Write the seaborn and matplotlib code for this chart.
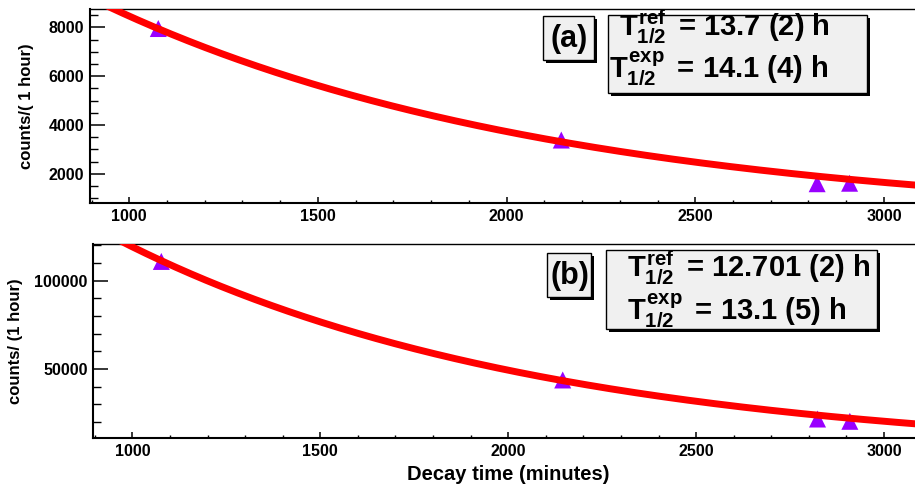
import numpy as np
import pandas as pd
import seaborn as sns
import matplotlib
matplotlib.use("Agg")
import matplotlib.pyplot as plt
from matplotlib.patches import Rectangle
from matplotlib.ticker import MultipleLocator

# ---------------- data ----------------
decay_time = [1077, 2145, 2823, 2909]            # minutes
counts_a = [7950, 3380, 1590, 1610]              # counts / (1 hour), panel (a)
counts_b = [110900, 43800, 21700, 20400]         # counts / (1 hour), panel (b)

# exponential fit parameters
fit_a_amplitude = 19190.0
fit_a_halflife_h = 14.1
fit_b_amplitude = 287800.0
fit_b_halflife_h = 13.1

x_ticks = [1000, 1500, 2000, 2500, 3000]
y_ticks_a = [2000, 4000, 6000, 8000]
y_ticks_b = [50000, 100000]

label_a = ["(a)", r"$T^{ref}_{1/2}\,$ = 13.7 (2) h", r"$T^{exp}_{1/2}\,$ = 14.1 (4) h"]
label_b = ["(b)", r"$T^{ref}_{1/2}\,$ = 12.701 (2) h", r"$T^{exp}_{1/2}\,$ = 13.1 (5) h"]

# ---------------- style ----------------
sns.set_theme(style="white")
plt.rcParams["font.family"] = ["Liberation Sans", "DejaVu Sans"]
plt.rcParams["font.weight"] = "bold"
plt.rcParams["text.color"] = "black"
plt.rcParams["axes.labelcolor"] = "black"
plt.rcParams["xtick.color"] = "black"
plt.rcParams["ytick.color"] = "black"
plt.rcParams["mathtext.fontset"] = "custom"
plt.rcParams["mathtext.rm"] = "Liberation Sans:bold"
plt.rcParams["mathtext.it"] = "Liberation Sans:bold"
plt.rcParams["mathtext.bf"] = "Liberation Sans:bold"
plt.rcParams["mathtext.sf"] = "Liberation Sans:bold"

W, H = 915, 490
fig = plt.figure(figsize=(W / 100, H / 100), dpi=100)


def fx(px):
    return px / W


def fy(py):
    return 1 - py / H


def make_axes(left, top, right, bottom):
    return fig.add_axes([fx(left), fy(bottom), fx(right) - fx(left), fy(top) - fy(bottom)])


ax_a = make_axes(90, 9, 916, 203)
ax_b = make_axes(93.3, 244.3, 916, 438)

xlim = (896, 3085)
t_curve = np.linspace(880, 3100, 500)

panels = [
    (ax_a, counts_a, fit_a_amplitude, fit_a_halflife_h, (800, 8750), y_ticks_a, 500,
     "counts/( 1 hour)", 27),
    (ax_b, counts_b, fit_b_amplitude, fit_b_halflife_h, (10950, 120600), y_ticks_b, 10000,
     "counts/ (1 hour)", 16),
]

for ax, counts, amp, thalf, ylim, yt, yminor, ylab, ylab_x in panels:
    k = np.log(2) / (thalf * 60.0)
    curve = pd.DataFrame({"t": t_curve, "c": amp * np.exp(-k * t_curve)})
    pts = pd.DataFrame({"t": decay_time, "c": counts})
    sns.lineplot(data=curve, x="t", y="c", ax=ax, color="#ff0000", lw=5.0, zorder=3)
    sns.scatterplot(data=pts, x="t", y="c", ax=ax, marker="^", s=150, color="#9900ff",
                    edgecolor="none", linewidth=0, zorder=2)
    ax.set_xlim(*xlim)
    ax.set_ylim(*ylim)
    ax.set_xticks(x_ticks)
    ax.set_xticklabels([str(v) for v in x_ticks], fontsize=11.5, fontweight="bold")
    ax.set_yticks(yt)
    ax.set_yticklabels([str(v) for v in yt], fontsize=11.5, fontweight="bold")
    ax.xaxis.set_minor_locator(MultipleLocator(100))
    ax.yaxis.set_minor_locator(MultipleLocator(yminor))
    ax.tick_params(axis="y", which="major", direction="in", length=10.8, width=1.1, pad=4,
                   left=True, colors="black")
    ax.tick_params(axis="y", which="minor", direction="in", length=5.4, width=1.0, left=True,
                   colors="black")
    ax.tick_params(axis="x", which="major", direction="in", length=4.3, width=1.1, pad=4,
                   bottom=True, colors="black")
    ax.tick_params(axis="x", which="minor", direction="in", length=2.2, width=1.0, bottom=True,
                   colors="black")
    ax.set_xlabel("")
    ax.set_ylabel("")
    ax.spines["right"].set_visible(False)
    for s in ["left", "bottom"]:
        ax.spines[s].set_linewidth(1.5)
        ax.spines[s].set_color("black")
    ax.spines["top"].set_linewidth(1.0)
    ax.spines["top"].set_color("black")
    ax.set_facecolor("white")
    bb = ax.get_position()
    fig.text(fx(ylab_x), (bb.y0 + bb.y1) / 2, ylab, rotation=90, ha="center", va="center",
             fontsize=12, fontweight="bold", color="black")

fig.text(fx(508), fy(474), "Decay time (minutes)", ha="center", va="center",
         fontsize=14.5, fontweight="bold", color="black")


def draw_box(x0, y0, x1, y1, shadow=3):
    fig.patches.append(Rectangle((fx(x0 + shadow), fy(y1 + shadow)), fx(x1) - fx(x0),
                                 fy(y0) - fy(y1), transform=fig.transFigure,
                                 facecolor="black", edgecolor="none", zorder=5))
    fig.patches.append(Rectangle((fx(x0), fy(y1)), fx(x1) - fx(x0), fy(y0) - fy(y1),
                                 transform=fig.transFigure, facecolor="#f0f0f0",
                                 edgecolor="black", linewidth=1.0, zorder=6))


# panel (a) boxes
draw_box(543, 16, 594, 60)
draw_box(608, 15, 867, 93)
fig.text(fx(569), fy(39), label_a[0], ha="center", va="center", fontsize=22,
         fontweight="bold", zorder=7, color="black")
fig.text(fx(619), fy(36), label_a[1], ha="left", va="baseline", fontsize=21,
         fontweight="bold", zorder=7, color="black")
fig.text(fx(609), fy(78), label_a[2], ha="left", va="baseline", fontsize=21,
         fontweight="bold", zorder=7, color="black")

# panel (b) boxes
draw_box(547, 253, 591, 297)
draw_box(606, 250, 877, 329)
fig.text(fx(570), fy(276), label_b[0], ha="center", va="center", fontsize=22,
         fontweight="bold", zorder=7, color="black")
fig.text(fx(627), fy(277), label_b[1], ha="left", va="baseline", fontsize=21,
         fontweight="bold", zorder=7, color="black")
fig.text(fx(627), fy(320), label_b[2], ha="left", va="baseline", fontsize=21,
         fontweight="bold", zorder=7, color="black")

fig.savefig("out.png", dpi=100, facecolor="white")
